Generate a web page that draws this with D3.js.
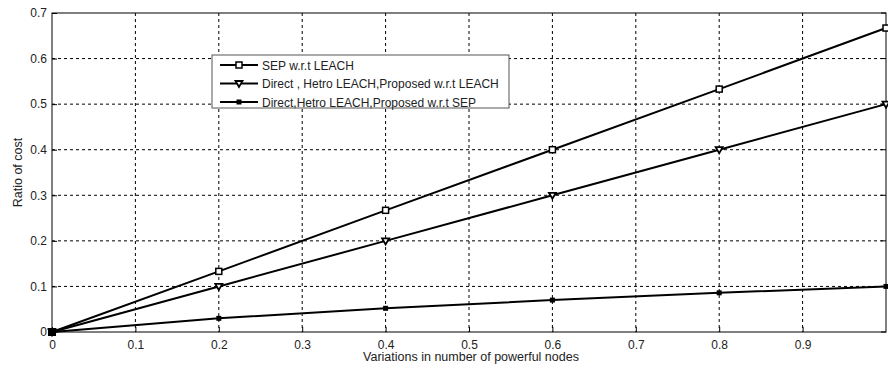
<!DOCTYPE html>
<html>
<head>
<meta charset="utf-8">
<script src="https://cdn.jsdelivr.net/npm/d3@7"></script>
<style>
  body { margin: 0; background: #fff; }
  svg text { font-family: "Liberation Sans", Arial, sans-serif; fill: #222; }
</style>
</head>
<body>
<div id="chart"></div>
<script>
// data
var xValues = [0, 0.2, 0.4, 0.6, 0.8, 1.0];
var sepLeach = [0, 0.133, 0.267, 0.4, 0.533, 0.667];
var directLeach = [0, 0.1, 0.2, 0.3, 0.4, 0.5];
var directSep = [0, 0.03, 0.052, 0.07, 0.086, 0.1];
var seriesNames = ["SEP w.r.t LEACH", "Direct , Hetro LEACH,Proposed w.r.t LEACH", "Direct,Hetro LEACH,Proposed w.r.t SEP"];
var xTicks = [0, 0.1, 0.2, 0.3, 0.4, 0.5, 0.6, 0.7, 0.8, 0.9];
var yTicks = [0, 0.1, 0.2, 0.3, 0.4, 0.5, 0.6, 0.7];

var svgWidth = 888;
var svgHeight = 371;
var margin = {top: 13, right: 2, bottom: 39, left: 52};
var chartWidth = svgWidth - margin.left - margin.right;
var chartHeight = svgHeight - margin.top - margin.bottom;

var svg = d3.select("#chart")
  .append("svg")
  .attr("width", svgWidth)
  .attr("height", svgHeight)
  .append("g")
  .attr("transform", `translate(${margin.left},${margin.top})`);

var x = d3.scaleLinear().domain([0, 1]).range([0, chartWidth]);
var y = d3.scaleLinear().domain([0, 0.7]).range([chartHeight, 0]);

// grid
svg.append("g").selectAll("line")
  .data(xTicks.filter(d => d > 0))
  .enter().append("line")
  .attr("x1", d => x(d)).attr("x2", d => x(d))
  .attr("y1", 0).attr("y2", chartHeight)
  .attr("stroke", "#000").attr("stroke-width", 1)
  .attr("stroke-dasharray", "3,3");

svg.append("g").selectAll("line")
  .data(yTicks.filter(d => d > 0 && d < 0.7))
  .enter().append("line")
  .attr("x1", 0).attr("x2", chartWidth)
  .attr("y1", d => y(d)).attr("y2", d => y(d))
  .attr("stroke", "#000").attr("stroke-width", 1)
  .attr("stroke-dasharray", "3,3");

// axes
var bottomAxis = d3.axisBottom(x).tickValues(xTicks).tickSize(-5).tickPadding(8)
  .tickFormat(d => d === 0 ? "0" : d3.format(".1f")(d));
var leftAxis = d3.axisLeft(y).tickValues(yTicks).tickSize(-5).tickPadding(5)
  .tickFormat(d => d === 0 ? "0" : d3.format(".1f")(d));

var gx = svg.append("g").attr("transform", `translate(0,${chartHeight})`).call(bottomAxis);
var gy = svg.append("g").call(leftAxis);
[gx, gy].forEach(function(g) {
  g.select(".domain").remove();
  g.selectAll("text").style("font-size", "12px").attr("fill", "#222");
  g.selectAll("line").attr("stroke", "#000");
});

// right side ticks
svg.append("g").selectAll("line")
  .data(yTicks)
  .enter().append("line")
  .attr("x1", chartWidth - 5).attr("x2", chartWidth)
  .attr("y1", d => y(d)).attr("y2", d => y(d))
  .attr("stroke", "#000");

// frame
svg.append("rect")
  .attr("x", 0).attr("y", 0)
  .attr("width", chartWidth).attr("height", chartHeight)
  .attr("fill", "none").attr("stroke", "#000").attr("stroke-width", 1);

// lines
var line = d3.line().x((d, i) => x(xValues[i])).y(d => y(d));
var allSeries = [sepLeach, directLeach, directSep];
var markers = ["square", "triangle", "dot"];

function drawMarker(g, type, cx, cy) {
  if (type === "square") {
    g.append("rect").attr("x", cx - 3).attr("y", cy - 3).attr("width", 6).attr("height", 6)
      .attr("fill", "#fff").attr("stroke", "#000").attr("stroke-width", 1.5);
  } else if (type === "triangle") {
    g.append("path")
      .attr("d", `M${cx - 3.5},${cy - 2.5} L${cx + 3.5},${cy - 2.5} L${cx},${cy + 3.5} Z`)
      .attr("fill", "#fff").attr("stroke", "#000").attr("stroke-width", 1.8);
  } else {
    g.append("rect").attr("x", cx - 2.5).attr("y", cy - 2.5).attr("width", 5).attr("height", 5)
      .attr("fill", "#000");
  }
}

allSeries.forEach(function(s, k) {
  svg.append("path")
    .datum(s)
    .attr("d", line)
    .attr("fill", "none")
    .attr("stroke", "#000")
    .attr("stroke-width", 2);
  var g = svg.append("g");
  s.forEach(function(v, i) {
    drawMarker(g, markers[k], x(xValues[i]), y(v));
  });
});
// origin marker
svg.append("rect").attr("x", x(0) - 4).attr("y", y(0) - 4).attr("width", 8).attr("height", 8).attr("fill", "#000");

// legend
var legend = svg.append("g").attr("transform", `translate(${212 - margin.left},${55 - margin.top})`);
legend.append("rect").attr("width", 297).attr("height", 53)
  .attr("fill", "#fff").attr("stroke", "#555").attr("stroke-width", 1);
seriesNames.forEach(function(name, k) {
  var ly = 10 + k * 18.5;
  legend.append("line").attr("x1", 8).attr("x2", 46).attr("y1", ly).attr("y2", ly)
    .attr("stroke", "#000").attr("stroke-width", 2);
  drawMarker(legend, markers[k], 27, ly);
  legend.append("text").attr("x", 50).attr("y", ly + 4.5)
    .style("font-size", "12px").text(name);
});

// axis labels
svg.append("text")
  .attr("transform", "rotate(-90)")
  .attr("x", -chartHeight / 2)
  .attr("y", -margin.left + 22)
  .attr("text-anchor", "middle")
  .style("font-size", "12.5px")
  .text("Ratio of cost");

svg.append("text")
  .attr("x", 471 - margin.left)
  .attr("y", chartHeight + 29)
  .attr("text-anchor", "middle")
  .style("font-size", "12.5px")
  .text("Variations in number of powerful nodes");
</script>
</body>
</html>
